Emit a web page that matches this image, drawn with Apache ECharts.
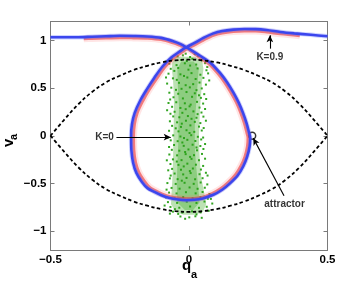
<!DOCTYPE html>
<html><head><meta charset="utf-8">
<script src="https://cdn.jsdelivr.net/npm/echarts@6/dist/echarts.min.js"></script>
<style>html,body{margin:0;padding:0;background:#fff}#c{width:362px;height:284px}</style>
</head><body><div id="c"></div>
<script>
// ---- data ----
const xTicks = [-0.5, 0, 0.5];
const yTicks = [-1, -0.5, 0, 0.5, 1];

// separatrix (black dashed): upper and lower halves
const sepQ = [-0.5, -0.45, -0.4, -0.35, -0.3, -0.25, -0.2, -0.15, -0.1, -0.05, 0, 0.05, 0.1, 0.15, 0.2, 0.25, 0.3, 0.35, 0.4, 0.45, 0.5];
const sepUpper = [0, 0.17, 0.33, 0.46, 0.56, 0.63, 0.69, 0.735, 0.77, 0.792, 0.8, 0.792, 0.77, 0.735, 0.69, 0.63, 0.56, 0.46, 0.33, 0.17, 0];
const sepLower = [0, -0.17, -0.33, -0.46, -0.56, -0.63, -0.69, -0.735, -0.77, -0.792, -0.8, -0.792, -0.77, -0.735, -0.69, -0.63, -0.56, -0.46, -0.33, -0.17, 0];

// K=0.9 trajectory (blue), traced in order
const blueCurve = [
 [-0.5,1.035],[-0.45,1.035],[-0.4,1.035],[-0.35,1.04],[-0.3,1.045],[-0.25,1.05],[-0.2,1.048],[-0.15,1.043],[-0.1,1.028],[-0.057,0.993],[-0.03,0.963],[-0.01,0.93],
 [0.04,0.84],[0.08,0.76],[0.112,0.66],[0.138,0.56],[0.16,0.455],[0.179,0.35],[0.195,0.24],[0.208,0.13],[0.217,0.03],[0.221,-0.02],[0.219,-0.11],[0.21,-0.22],[0.196,-0.32],[0.175,-0.42],[0.148,-0.5],[0.12,-0.567],[0.088,-0.62],[0.05,-0.658],[0.02,-0.673],[-0.01,-0.677],[-0.04,-0.67],[-0.07,-0.655],[-0.1,-0.625],[-0.125,-0.59],[-0.15,-0.55],[-0.17,-0.485],[-0.19,-0.39],[-0.202,-0.28],[-0.208,-0.15],[-0.209,0],[-0.206,0.12],[-0.196,0.24],[-0.176,0.37],[-0.153,0.484],[-0.125,0.61],[-0.095,0.73],[-0.064,0.822],[-0.034,0.884],[-0.01,0.93],
 [0.02,0.975],[0.052,1.028],[0.088,1.075],[0.12,1.1],[0.16,1.115],[0.2,1.122],[0.24,1.12],[0.28,1.11],[0.33,1.09],[0.38,1.075],[0.44,1.06],[0.5,1.045]
];
// noisy K=0.9 cloud (red), lying just inside the blue curve
const redCurve = [
 [-0.38,1.018],[-0.35,1.022],[-0.3,1.027],[-0.25,1.03],[-0.2,1.028],[-0.15,1.025],[-0.1,1.01],[-0.057,0.975],[-0.03,0.945],[-0.005,0.915],
 [0.035,0.83],[0.072,0.755],[0.104,0.655],[0.13,0.555],[0.152,0.452],[0.171,0.35],[0.187,0.24],[0.2,0.13],[0.209,0.03],[0.213,-0.02],[0.211,-0.11],[0.202,-0.22],[0.188,-0.315],[0.168,-0.41],[0.142,-0.49],[0.115,-0.555],[0.085,-0.605],[0.05,-0.645],[0.02,-0.66],[-0.01,-0.662],[-0.04,-0.655],[-0.068,-0.64],[-0.096,-0.612],[-0.12,-0.578],[-0.143,-0.54],[-0.162,-0.475],[-0.181,-0.385],[-0.193,-0.28],[-0.199,-0.15],[-0.2,0],[-0.197,0.12],[-0.187,0.24],[-0.167,0.365],[-0.145,0.478],[-0.117,0.6],[-0.088,0.718],[-0.058,0.81],[-0.03,0.87],[-0.01,0.91],
 [0.02,0.955],[0.052,1.005],[0.088,1.055],[0.12,1.08],[0.16,1.095],[0.2,1.1],[0.24,1.1],[0.28,1.09],[0.33,1.07],[0.4,1.05]
];
// K=0 cloud (green): outline of the dense band, its densest core, and individual points
const greenBand = [
 [-0.045,0.83],[-0.06,0.78],[-0.062,0.7],[-0.058,0.6],[-0.055,0.45],[-0.054,0.3],[-0.055,0.15],[-0.056,0],[-0.057,-0.15],[-0.058,-0.3],[-0.06,-0.45],[-0.063,-0.6],[-0.065,-0.72],[-0.048,-0.8],[-0.02,-0.83],
 [0.02,-0.83],[0.05,-0.8],[0.062,-0.72],[0.055,-0.6],[0.045,-0.45],[0.04,-0.3],[0.037,-0.15],[0.036,0],[0.038,0.15],[0.04,0.3],[0.044,0.45],[0.048,0.6],[0.052,0.7],[0.048,0.78],[0.022,0.83]
];
const greenCore = [
 [-0.028,0.78],[-0.042,0.7],[-0.04,0.5],[-0.036,0.3],[-0.038,0.1],[-0.039,-0.1],[-0.042,-0.3],[-0.044,-0.5],[-0.042,-0.7],[-0.015,-0.78],
 [0.015,-0.78],[0.038,-0.7],[0.032,-0.5],[0.025,-0.3],[0.021,-0.1],[0.021,0.1],[0.025,0.3],[0.03,0.5],[0.035,0.7],[0.017,0.78]
];
const greenDots = [
 [-0.012,0.862],[0.021,0.858],[-0.041,0.834],[0.004,0.827],[0.033,0.839],[-0.022,0.845],
 [-0.061,0.803],[-0.028,0.796],[0.012,0.808],[0.047,0.792],[-0.008,0.785],
 [-0.071,0.757],[-0.045,0.742],[-0.015,0.761],[0.026,0.748],[0.058,0.763],[0.004,0.737],
 [-0.066,0.703],[-0.039,0.712],[-0.002,0.694],[0.031,0.707],[0.063,0.688],[-0.053,0.681],
 [-0.074,0.652],[-0.031,0.645],[0.009,0.658],[0.041,0.641],[0.069,0.655],[-0.018,0.628],
 [-0.058,0.603],[-0.044,0.587],[-0.006,0.612],[0.024,0.596],[0.052,0.608],[0.073,0.581],
 [-0.079,0.548],[-0.036,0.556],[0.015,0.542],[0.038,0.559],[-0.012,0.531],[0.061,0.537],
 [-0.064,0.505],[-0.027,0.493],[0.003,0.508],[0.046,0.497],[-0.047,0.482],[0.027,0.479],
 [-0.071,0.452],[-0.039,0.441],[-0.009,0.459],[0.021,0.446],[0.055,0.437],[0.036,0.425],
 [-0.056,0.404],[-0.022,0.392],[0.011,0.409],[0.043,0.398],[-0.068,0.381],[0.062,0.386],
 [-0.046,0.352],[-0.015,0.341],[0.029,0.356],[0.051,0.338],[-0.074,0.344],[0.006,0.327],
 [-0.061,0.304],[-0.031,0.292],[0.002,0.309],[0.038,0.296],[0.058,0.281],[-0.012,0.279],
 [-0.052,0.252],[-0.024,0.241],[0.016,0.256],[0.045,0.244],[-0.067,0.231],[0.031,0.227],
 [-0.057,0.203],[-0.035,0.194],[-0.004,0.207],[0.027,0.189],[0.052,0.201],[0.009,0.178],
 [-0.069,0.152],[-0.043,0.141],[-0.011,0.158],[0.021,0.146],[0.041,0.133],[-0.026,0.127],
 [-0.061,0.104],[-0.029,0.093],[0.005,0.109],[0.036,0.096],[0.053,0.081],[-0.048,0.078],
 [-0.072,0.052],[-0.038,0.046],[-0.009,0.058],[0.019,0.041],[0.046,0.055],[0.002,0.029],
 [-0.057,0.004],[-0.031,-0.008],[0.008,0.006],[0.032,-0.011],[-0.018,-0.024],[0.051,-0.019],
 [-0.066,-0.048],[-0.041,-0.057],[-0.006,-0.043],[0.023,-0.055],[0.044,-0.039],[-0.024,-0.071],
 [-0.054,-0.097],[-0.019,-0.106],[0.013,-0.094],[0.041,-0.108],[-0.072,-0.118],[0.027,-0.123],
 [-0.062,-0.148],[-0.035,-0.157],[-0.002,-0.144],[0.029,-0.153],[0.052,-0.139],[-0.014,-0.171],
 [-0.071,-0.197],[-0.043,-0.206],[-0.012,-0.193],[0.018,-0.204],[0.047,-0.191],[0.004,-0.222],
 [-0.058,-0.248],[-0.027,-0.256],[0.009,-0.243],[0.036,-0.257],[0.058,-0.241],[-0.044,-0.271],
 [-0.067,-0.297],[-0.038,-0.306],[-0.006,-0.293],[0.025,-0.304],[0.051,-0.317],[-0.019,-0.322],
 [-0.061,-0.348],[-0.029,-0.357],[0.014,-0.344],[0.043,-0.355],[-0.075,-0.363],[0.003,-0.371],
 [-0.052,-0.397],[-0.021,-0.406],[0.006,-0.392],[0.038,-0.404],[0.061,-0.389],[-0.066,-0.418],
 [-0.069,-0.448],[-0.041,-0.456],[-0.009,-0.443],[0.022,-0.457],[0.049,-0.446],[-0.026,-0.472],
 [-0.078,-0.497],[-0.048,-0.506],[-0.016,-0.494],[0.017,-0.505],[0.042,-0.491],[0.066,-0.511],
 [-0.063,-0.548],[-0.034,-0.556],[0.002,-0.543],[0.031,-0.557],[0.057,-0.546],[-0.081,-0.566],
 [-0.072,-0.597],[-0.045,-0.606],[-0.011,-0.593],[0.024,-0.605],[0.049,-0.591],[0.074,-0.611],
 [-0.083,-0.648],[-0.052,-0.656],[-0.021,-0.644],[0.013,-0.657],[0.041,-0.646],[0.068,-0.662],
 [-0.076,-0.697],[-0.043,-0.705],[-0.008,-0.693],[0.027,-0.706],[0.056,-0.691],[0.084,-0.712],
 [-0.067,-0.748],[-0.035,-0.756],[0.004,-0.743],[0.036,-0.757],[0.064,-0.746],[-0.051,-0.771],
 [-0.058,-0.797],[-0.024,-0.806],[0.011,-0.794],[0.042,-0.805],[-0.039,-0.821],[0.027,-0.826],
 [-0.031,-0.848],[0.001,-0.857],[0.023,-0.846],[-0.014,-0.872],[0.046,-0.862],
 [-0.083,0.612],[0.066,0.722],[-0.079,0.268],[0.061,0.158],[-0.077,-0.021],[0.058,-0.087],[-0.08,-0.258],[0.067,-0.418],[0.079,-0.663],[-0.088,-0.733],[0.071,-0.788],[-0.069,-0.818]
];
const attractorPoint = [[0.228, 0]];
const noteTexts = ['K=0', 'K=0.9', 'attractor'];
const notePos = [[-0.305, -0.015], [0.292, 0.82], [0.345, -0.715]];
const arrowFrom = [[-0.262, -0.015], [0.292, 0.915], [0.343, -0.63]];
const arrowTo = [[-0.066, -0.015], [0.292, 1.055], [0.232, -0.025]];

// ---- chart ----
const FONT = '"Liberation Sans", Arial, Helvetica, sans-serif';
const fmt = v => (v < 0 ? '\u2212' + Math.abs(v) : String(v));
const isTick = (v, ticks) => ticks.some(t => Math.abs(t - v) < 1e-9);
const gridBox = { left: 50.5, top: 21.5, width: 277, height: 228.5 };
const axisCommon = {
  type: 'value',
  axisLine: { show: true, onZero: false, lineStyle: { color: '#7a7a7a', width: 1 } },
  axisTick: { show: true, inside: true, length: 4, lineStyle: { color: '#7a7a7a' } },
  splitLine: { show: false },
};
const labelStyle = { color: '#000', fontFamily: FONT, fontWeight: 'bold', fontSize: 11.5 };

const chart = echarts.init(document.getElementById('c'), null, { renderer: 'canvas' });
const polygonSeries = (pts, fill) => ({
  type: 'custom', coordinateSystem: 'cartesian2d', silent: true, data: [[0, 0]],
  renderItem: (params, api) => ({
    type: 'polygon',
    shape: { points: pts.map(p => api.coord(p)) },
    style: { fill: fill }
  })
});
const lineSeries = (data, color, width, extra) => Object.assign({
  type: 'line', data: data, showSymbol: false, symbol: 'none', silent: true,
  lineStyle: { color: color, width: width }, smooth: 0.3
}, extra || {});

chart.setOption({
  animation: false,
  backgroundColor: '#fff',
  grid: gridBox,
  xAxis: [
    Object.assign({}, axisCommon, { min: -0.5, max: 0.5, interval: 0.5, position: 'bottom',
      axisLabel: Object.assign({ margin: 4, formatter: v => isTick(v, xTicks) ? fmt(v) : '' }, labelStyle) }),
    Object.assign({}, axisCommon, { min: -0.5, max: 0.5, interval: 0.5, position: 'top', axisLabel: { show: false } })
  ],
  yAxis: [
    Object.assign({}, axisCommon, { min: -1.2, max: 1.2, position: 'left',
      axisLabel: Object.assign({ margin: 4, formatter: v => isTick(v, yTicks) ? fmt(v) : '' }, labelStyle) }),
    Object.assign({}, axisCommon, { min: -1.2, max: 1.2, position: 'right', axisLabel: { show: false } })
  ],
  graphic: [
    { type: 'text', silent: true, x: 182, y: 266, style: { text: 'q', font: 'bold 15px ' + FONT, fill: '#000', verticalAlign: 'middle', align: 'left' } },
    { type: 'text', silent: true, x: 191, y: 275, style: { text: 'a', font: 'bold 11px ' + FONT, fill: '#000', verticalAlign: 'middle', align: 'left' } },
    { type: 'text', silent: true, x: 9, y: 147, rotation: Math.PI / 2, style: { text: 'v', font: 'bold 15px ' + FONT, fill: '#000', verticalAlign: 'middle', align: 'left' } },
    { type: 'text', silent: true, x: 13.5, y: 140, rotation: Math.PI / 2, style: { text: 'a', font: 'bold 11px ' + FONT, fill: '#000', verticalAlign: 'middle', align: 'left' } }
  ],
  series: [
    polygonSeries(greenBand, 'rgba(70,175,45,0.36)'),
    polygonSeries(greenCore, 'rgba(50,165,30,0.34)'),
    { type: 'scatter', data: greenDots, symbol: 'rect', symbolSize: 2, silent: true, itemStyle: { color: '#28a016', opacity: 0.95 } },
    lineSeries(redCurve, 'rgba(255,110,110,0.18)', 7),
    lineSeries(redCurve, 'rgba(238,50,50,0.6)', 3),
    lineSeries(blueCurve, 'rgba(90,110,255,0.3)', 4.5),
    lineSeries(blueCurve, '#3b46ee', 2.6),
    lineSeries(sepQ.map((q, i) => [q, sepUpper[i]]), '#000', 1.8, { lineStyle: { color: '#000', width: 1.8, type: [3.5, 2.5] }, smooth: 0.4 }),
    lineSeries(sepQ.map((q, i) => [q, sepLower[i]]), '#000', 1.8, { lineStyle: { color: '#000', width: 1.8, type: [3.5, 2.5] }, smooth: 0.4 }),
    { type: 'scatter', data: attractorPoint, symbol: 'circle', symbolSize: 7, silent: true,
      itemStyle: { color: 'rgba(0,0,0,0)', borderColor: '#000', borderWidth: 1.5 } },
    { type: 'scatter', silent: true, symbolSize: 0,
      data: notePos.map((p, i) => ({ value: p, name: noteTexts[i] })),
      label: { show: true, position: 'inside', formatter: p => p.name, color: '#000', fontFamily: FONT, fontWeight: 'bold', fontSize: 10 },
      markLine: {
        silent: true, animation: false, symbol: ['none', 'arrow'], symbolSize: [5, 7], precision: 4,
        label: { show: false },
        lineStyle: { color: '#000', width: 1.1, type: 'solid' },
        emphasis: { disabled: true },
        data: arrowFrom.map((a, i) => [{ coord: a }, { coord: arrowTo[i] }])
      }
    }
  ]
});
</script>
</body></html>
